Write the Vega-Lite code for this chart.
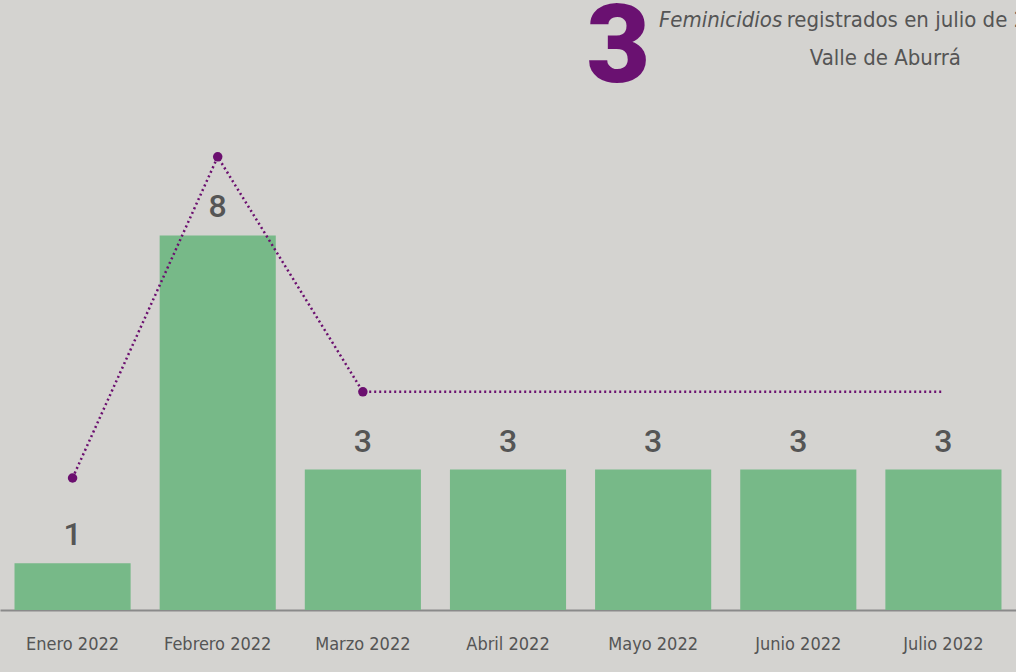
{
  "$schema": "https://vega.github.io/schema/vega-lite/v6.json",
  "width": 1016,
  "height": 610,
  "autosize": {"type": "none"},
  "padding": {"top": 0, "left": 0, "right": 0, "bottom": 62},
  "background": "#d4d3d0",
  "config": {"view": {"stroke": null}},
  "data": {
    "values": [
      {"mes": "Enero 2022", "valor": 1, "linea": 2.82, "punto": true},
      {"mes": "Febrero 2022", "valor": 8, "linea": 9.68, "punto": true},
      {"mes": "Marzo 2022", "valor": 3, "linea": 4.66, "punto": true},
      {"mes": "Abril 2022", "valor": 3, "linea": 4.66, "punto": false},
      {"mes": "Mayo 2022", "valor": 3, "linea": 4.66, "punto": false},
      {"mes": "Junio 2022", "valor": 3, "linea": 4.66, "punto": false},
      {"mes": "Julio 2022", "valor": 3, "linea": 4.66, "punto": false}
    ]
  },
  "encoding": {
    "x": {
      "field": "mes",
      "type": "nominal",
      "sort": null,
      "scale": {"paddingInner": 0.2, "paddingOuter": 0.1},
      "axis": {
        "title": null,
        "labelAngle": 0,
        "ticks": false,
        "domainColor": "#8a8a8a",
        "domainWidth": 2,
        "labelFont": "DejaVu Sans Condensed, sans-serif",
        "labelFontSize": 18,
        "labelColor": "#555555",
        "labelBaseline": "alphabetic",
        "labelPadding": 39
      }
    }
  },
  "layer": [
    {
      "mark": {"type": "bar", "color": "#77b988"},
      "encoding": {
        "y": {"field": "valor", "type": "quantitative", "scale": {"domain": [0, 13.03], "nice": false}, "axis": null}
      }
    },
    {
      "mark": {"type": "line", "color": "#6b0f6f", "strokeDash": [2, 3], "strokeWidth": 2.5},
      "encoding": {
        "y": {"field": "linea", "type": "quantitative"}
      }
    },
    {
      "transform": [{"filter": "datum.punto"}],
      "mark": {"type": "point", "filled": true, "color": "#6b0f6f", "size": 90, "opacity": 1},
      "encoding": {
        "y": {"field": "linea", "type": "quantitative"}
      }
    },
    {
      "mark": {"type": "text", "font": "Roboto", "fontWeight": 500, "fontSize": 32, "color": "#555555", "baseline": "alphabetic", "dy": -18},
      "encoding": {
        "y": {"field": "valor", "type": "quantitative"},
        "text": {"field": "valor"}
      }
    },
    {
      "transform": [{"filter": "datum.mes == 'Julio 2022'"}],
      "mark": {"type": "text", "font": "Roboto", "fontWeight": 900, "fontSize": 110, "color": "#6a1171", "baseline": "alphabetic", "align": "center"},
      "encoding": {
        "x": {"datum": "Mayo 2022", "type": "nominal", "bandPosition": 0.2},
        "y": {"datum": 11.28, "type": "quantitative"},
        "text": {"field": "valor"}
      }
    },
    {
      "transform": [{"filter": "datum.mes == 'Julio 2022'"}],
      "mark": {"type": "text", "font": "DejaVu Sans Condensed, sans-serif", "fontStyle": "italic", "fontSize": 22, "color": "#555555", "baseline": "alphabetic", "align": "left"},
      "encoding": {
        "x": {"datum": "Mayo 2022", "type": "nominal", "bandPosition": 0.55},
        "y": {"datum": 12.46, "type": "quantitative"},
        "text": {"value": "Feminicidios"}
      }
    },
    {
      "transform": [{"filter": "datum.mes == 'Julio 2022'"}],
      "mark": {"type": "text", "font": "DejaVu Sans Condensed, sans-serif", "fontSize": 22, "color": "#555555", "baseline": "alphabetic", "align": "left"},
      "encoding": {
        "x": {"datum": "Junio 2022", "type": "nominal", "bandPosition": 0.4},
        "y": {"datum": 12.46, "type": "quantitative"},
        "text": {"value": "registrados en julio de 2022"}
      }
    },
    {
      "transform": [{"filter": "datum.mes == 'Julio 2022'"}],
      "mark": {"type": "text", "font": "DejaVu Sans Condensed, sans-serif", "fontSize": 22, "color": "#555555", "baseline": "alphabetic", "align": "center"},
      "encoding": {
        "x": {"datum": "Julio 2022", "type": "nominal", "bandPosition": 0},
        "y": {"datum": 11.65, "type": "quantitative"},
        "text": {"value": "Valle de Aburrá"}
      }
    }
  ]
}
